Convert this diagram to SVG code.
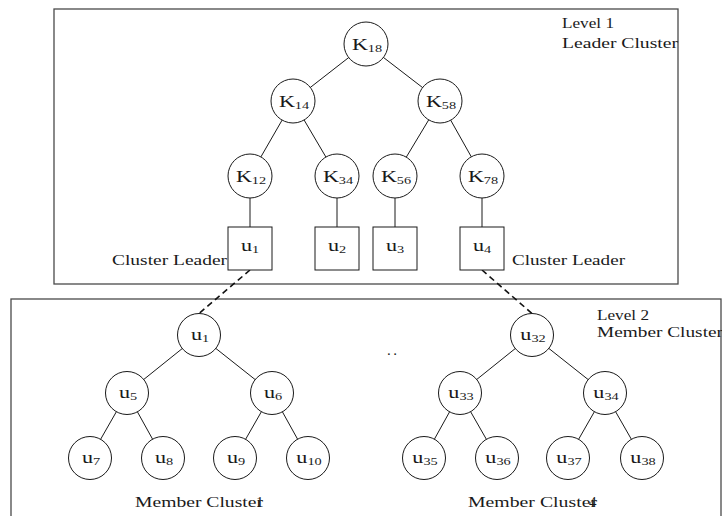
<svg xmlns="http://www.w3.org/2000/svg" width="722" height="516" viewBox="0 0 722 516">
  <style>
    .frame { fill: none; stroke: #4a4a4a; stroke-width: 1.3; }
    .node circle, .node rect { fill: #fff; stroke: #1a1a1a; stroke-width: 1; }
    .edge { stroke: #1a1a1a; stroke-width: 1; fill: none; }
    .dash { stroke: #111; stroke-width: 1.6; stroke-dasharray: 6 4; fill: none; }
    text { font-family: "Liberation Serif", "DejaVu Serif", serif; fill: #1a1a1a; }
    .lbl { font-size: 17px; text-anchor: middle; }
    .sub { font-size: 11px; }
    .cap { font-size: 15px; }
  </style>

  <!-- level frames -->
  <rect class="frame" x="54" y="9" width="624" height="275"/>
  <rect class="frame" x="11" y="299" width="710" height="230"/>

  <!-- connectors -->
  <g id="connectors">
    <line class="edge" x1="349.0" y1="57.3" x2="310.0" y2="87.7"/>
    <line class="edge" x1="383.0" y1="57.1" x2="423.0" y2="87.9"/>
    <line class="edge" x1="282.1" y1="120.1" x2="260.9" y2="156.9"/>
    <line class="edge" x1="304.1" y1="120.0" x2="325.9" y2="157.0"/>
    <line class="edge" x1="428.7" y1="119.9" x2="406.3" y2="157.1"/>
    <line class="edge" x1="450.7" y1="120.2" x2="471.3" y2="156.8"/>
    <line class="edge" x1="250" y1="198" x2="250" y2="227"/>
    <line class="edge" x1="337" y1="198" x2="337" y2="227"/>
    <line class="edge" x1="395" y1="198" x2="395" y2="227"/>
    <line class="edge" x1="482" y1="198" x2="482" y2="227"/>

    <line class="dash" x1="250" y1="270" x2="199" y2="313.5"/>
    <line class="dash" x1="482" y1="270" x2="532" y2="313.5"/>

    <line class="edge" x1="182.3" y1="348.5" x2="143.7" y2="379.5"/>
    <line class="edge" x1="215.8" y1="348.4" x2="255.2" y2="379.6"/>
    <line class="edge" x1="116.4" y1="411.7" x2="100.6" y2="439.3"/>
    <line class="edge" x1="137.4" y1="411.8" x2="152.6" y2="439.2"/>
    <line class="edge" x1="261.4" y1="411.7" x2="245.6" y2="439.3"/>
    <line class="edge" x1="282.4" y1="411.8" x2="297.6" y2="439.2"/>
    <line class="edge" x1="515.3" y1="348.5" x2="476.7" y2="379.5"/>
    <line class="edge" x1="548.8" y1="348.4" x2="588.2" y2="379.6"/>
    <line class="edge" x1="449.6" y1="411.8" x2="434.4" y2="439.2"/>
    <line class="edge" x1="470.6" y1="411.7" x2="486.4" y2="439.3"/>
    <line class="edge" x1="594.4" y1="411.7" x2="578.6" y2="439.3"/>
    <line class="edge" x1="615.6" y1="411.7" x2="631.4" y2="439.3"/>
  </g>

  <!-- leader cluster key tree -->
  <g id="K18" class="node"><circle cx="366" cy="44" r="22"/><text class="lbl" transform="translate(367 50) scale(1.3 1)">K<tspan class="sub" dy="2">18</tspan></text></g>
  <g id="K14" class="node"><circle cx="293" cy="101" r="22"/><text class="lbl" transform="translate(294 107) scale(1.3 1)">K<tspan class="sub" dy="2">14</tspan></text></g>
  <g id="K58" class="node"><circle cx="440" cy="101" r="22"/><text class="lbl" transform="translate(441 107) scale(1.3 1)">K<tspan class="sub" dy="2">58</tspan></text></g>
  <g id="K12" class="node"><circle cx="250" cy="176" r="22"/><text class="lbl" transform="translate(251 182) scale(1.3 1)">K<tspan class="sub" dy="2">12</tspan></text></g>
  <g id="K34" class="node"><circle cx="337" cy="176" r="22"/><text class="lbl" transform="translate(338 182) scale(1.3 1)">K<tspan class="sub" dy="2">34</tspan></text></g>
  <g id="K56" class="node"><circle cx="395" cy="176" r="22"/><text class="lbl" transform="translate(396 182) scale(1.3 1)">K<tspan class="sub" dy="2">56</tspan></text></g>
  <g id="K78" class="node"><circle cx="482" cy="176" r="22"/><text class="lbl" transform="translate(483 182) scale(1.3 1)">K<tspan class="sub" dy="2">78</tspan></text></g>

  <!-- leader members -->
  <g id="L_u1" class="node"><rect x="228" y="227" width="44" height="43"/><text class="lbl" transform="translate(250 251) scale(1.3 1)">u<tspan class="sub" dy="2">1</tspan></text></g>
  <g id="L_u2" class="node"><rect x="315" y="227" width="44" height="43"/><text class="lbl" transform="translate(337 251) scale(1.3 1)">u<tspan class="sub" dy="2">2</tspan></text></g>
  <g id="L_u3" class="node"><rect x="373" y="227" width="44" height="43"/><text class="lbl" transform="translate(395 251) scale(1.3 1)">u<tspan class="sub" dy="2">3</tspan></text></g>
  <g id="L_u4" class="node"><rect x="460" y="227" width="44" height="43"/><text class="lbl" transform="translate(482 251) scale(1.3 1)">u<tspan class="sub" dy="2">4</tspan></text></g>

  <!-- member cluster 1 -->
  <g id="M_u1" class="node"><circle cx="199" cy="335" r="21.5"/><text class="lbl" transform="translate(200 340) scale(1.3 1)">u<tspan class="sub" dy="2">1</tspan></text></g>
  <g id="M_u5" class="node"><circle cx="127" cy="393" r="21.5"/><text class="lbl" transform="translate(128 398) scale(1.3 1)">u<tspan class="sub" dy="2">5</tspan></text></g>
  <g id="M_u6" class="node"><circle cx="272" cy="393" r="21.5"/><text class="lbl" transform="translate(273 398) scale(1.3 1)">u<tspan class="sub" dy="2">6</tspan></text></g>
  <g id="M_u7" class="node"><circle cx="90" cy="458" r="21.5"/><text class="lbl" transform="translate(91 463) scale(1.3 1)">u<tspan class="sub" dy="2">7</tspan></text></g>
  <g id="M_u8" class="node"><circle cx="163" cy="458" r="21.5"/><text class="lbl" transform="translate(164 463) scale(1.3 1)">u<tspan class="sub" dy="2">8</tspan></text></g>
  <g id="M_u9" class="node"><circle cx="235" cy="458" r="21.5"/><text class="lbl" transform="translate(236 463) scale(1.3 1)">u<tspan class="sub" dy="2">9</tspan></text></g>
  <g id="M_u10" class="node"><circle cx="308" cy="458" r="21.5"/><text class="lbl" transform="translate(309 463) scale(1.3 1)">u<tspan class="sub" dy="2">10</tspan></text></g>

  <!-- member cluster 4 -->
  <g id="M_u32" class="node"><circle cx="532" cy="335" r="21.5"/><text class="lbl" transform="translate(533 340) scale(1.3 1)">u<tspan class="sub" dy="2">32</tspan></text></g>
  <g id="M_u33" class="node"><circle cx="460" cy="393" r="21.5"/><text class="lbl" transform="translate(461 398) scale(1.3 1)">u<tspan class="sub" dy="2">33</tspan></text></g>
  <g id="M_u34" class="node"><circle cx="605" cy="393" r="21.5"/><text class="lbl" transform="translate(606 398) scale(1.3 1)">u<tspan class="sub" dy="2">34</tspan></text></g>
  <g id="M_u35" class="node"><circle cx="424" cy="458" r="21.5"/><text class="lbl" transform="translate(425 463) scale(1.3 1)">u<tspan class="sub" dy="2">35</tspan></text></g>
  <g id="M_u36" class="node"><circle cx="497" cy="458" r="21.5"/><text class="lbl" transform="translate(498 463) scale(1.3 1)">u<tspan class="sub" dy="2">36</tspan></text></g>
  <g id="M_u37" class="node"><circle cx="568" cy="458" r="21.5"/><text class="lbl" transform="translate(569 463) scale(1.3 1)">u<tspan class="sub" dy="2">37</tspan></text></g>
  <g id="M_u38" class="node"><circle cx="642" cy="458" r="21.5"/><text class="lbl" transform="translate(643 463) scale(1.3 1)">u<tspan class="sub" dy="2">38</tspan></text></g>

  <!-- captions -->
  <text class="cap" x="562" y="28" textLength="52" lengthAdjust="spacingAndGlyphs">Level 1</text>
  <text class="cap" x="562" y="48" textLength="116" lengthAdjust="spacingAndGlyphs">Leader Cluster</text>
  <text class="cap" x="112" y="265" textLength="115" lengthAdjust="spacingAndGlyphs">Cluster Leader</text>
  <text class="cap" x="512" y="265" textLength="113" lengthAdjust="spacingAndGlyphs">Cluster Leader</text>
  <text class="cap" x="597" y="320" textLength="52" lengthAdjust="spacingAndGlyphs">Level 2</text>
  <text class="cap" x="597" y="337" textLength="126" lengthAdjust="spacingAndGlyphs">Member Cluster</text>
  <text class="cap" x="387" y="355" textLength="10" lengthAdjust="spacing">..</text>
  <text class="cap" x="135" y="507"><tspan textLength="128" lengthAdjust="spacingAndGlyphs">Member Cluster</tspan><tspan x="256">1</tspan></text>
  <text class="cap" x="468" y="507"><tspan textLength="129" lengthAdjust="spacingAndGlyphs">Member Cluster</tspan><tspan x="589">4</tspan></text>
</svg>
